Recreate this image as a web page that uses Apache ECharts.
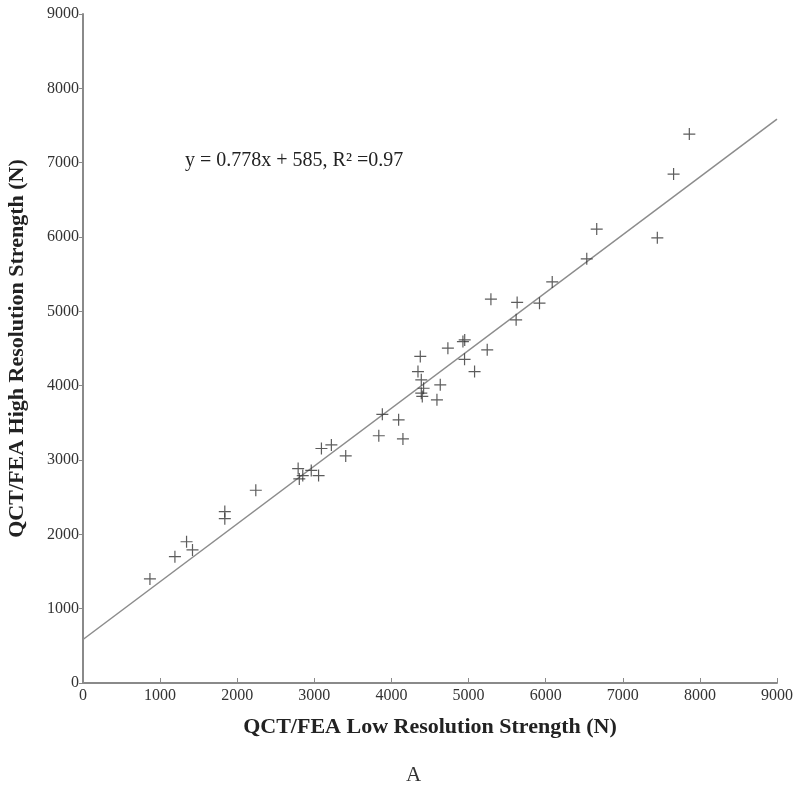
<!DOCTYPE html>
<html>
<head>
<meta charset="utf-8">
<script src="https://cdn.jsdelivr.net/npm/echarts@6/dist/echarts.min.js"></script>
<style>
  html, body { margin: 0; padding: 0; background: #fff; }
  #chart { width: 800px; height: 792px; }
</style>
</head>
<body>
<div id="chart"></div>
<script>
// low resolution strength (x) vs high resolution strength (y), in N
var lowRes = [
  868, 1192, 1343, 1420, 1839, 1839, 2241,
  2790, 2805, 2850, 2960, 3055, 3092, 3221, 3407,
  3836, 3882, 4093, 4149,
  4374, 4344, 4387, 4417, 4387, 4400, 4633, 4590,
  4732, 4950, 4927, 4948, 5078, 5242, 5290,
  5630, 5617, 5920, 6085, 6533, 6662, 7448, 7659, 7863
]
var highRes = [
  1400, 1700, 1900, 1790, 2306, 2210, 2593,
  2885, 2745, 2790, 2860, 2790, 3155, 3203, 3055,
  3326, 3615, 3540, 3284,
  4394, 4190, 4078, 3965, 3899, 3855, 4011, 3809,
  4505, 4616, 4593, 4355, 4190, 4482, 5164,
  5120, 4886, 5110, 5395, 5707, 6106, 5989, 6846, 7385
]
// fit: y = 0.778x + 585
var slope = 0.778
var intercept = 585
var fitX = [0, 9000]
var axisTicks = [0, 1000, 2000, 3000, 4000, 5000, 6000, 7000, 8000, 9000]

var points = lowRes.map(function(x, i) { return [x, highRes[i]] })
var fitLine = fitX.map(function(x) { return [x, slope * x + intercept] })

var serif = '"Liberation Serif", "DejaVu Serif", serif'
var chart = echarts.init(document.getElementById('chart'))

chart.setOption({
  animation: false,
  backgroundColor: '#fff',
  grid: {
    left: 83,
    right: 23,
    top: 14,
    bottom: 109,
    outerBoundsMode: 'none'
  },
  xAxis: {
    type: 'value',
    min: axisTicks[0],
    max: axisTicks[axisTicks.length - 1],
    interval: 1000,
    splitLine: { show: false },
    axisLine: { lineStyle: { color: '#8a8a8a', width: 2 } },
    axisTick: { inside: true, length: 5, lineStyle: { color: '#8a8a8a' } },
    axisLabel: { color: '#333', fontFamily: serif, fontSize: 16, margin: 5, formatter: function(v) { return String(v) } },
    name: 'QCT/FEA Low Resolution Strength (N)',
    nameLocation: 'middle',
    nameGap: 33,
    nameTextStyle: { color: '#222', fontFamily: serif, fontSize: 22, fontWeight: 'bold' }
  },
  yAxis: {
    type: 'value',
    min: axisTicks[0],
    max: axisTicks[axisTicks.length - 1],
    interval: 1000,
    splitLine: { show: false },
    axisLine: { lineStyle: { color: '#8a8a8a', width: 2 } },
    axisTick: { inside: false, length: 4, lineStyle: { color: '#8a8a8a' } },
    axisLabel: { color: '#333', fontFamily: serif, fontSize: 16, margin: 4, formatter: function(v) { return String(v) } },
    name: 'QCT/FEA High Resolution Strength (N)',
    nameLocation: 'middle',
    nameGap: 55,
    nameRotate: 90,
    nameTextStyle: { color: '#222', fontFamily: serif, fontSize: 22, fontWeight: 'bold' }
  },
  graphic: [
    {
      type: 'text',
      left: 185,
      top: 151,
      style: {
        text: 'y = 0.778x + 585, R² =0.97',
        font: '20px ' + serif,
        fill: '#222'
      }
    },
    {
      type: 'text',
      left: 406,
      top: 765,
      style: {
        text: 'A',
        font: '21px ' + serif,
        fill: '#333'
      }
    }
  ],
  series: [
    {
      name: 'fit',
      type: 'line',
      data: fitLine,
      symbol: 'none',
      lineStyle: { color: '#8c8c8c', width: 1.5 },
      z: 1
    },
    {
      name: 'samples',
      type: 'scatter',
      data: points,
      symbol: 'path://M0,6 L12,6 M6,0 L6,12',
      symbolSize: 12,
      itemStyle: {
        color: 'transparent',
        borderColor: '#333',
        borderWidth: 1.2
      },
      z: 2
    }
  ]
})
</script>
</body>
</html>
